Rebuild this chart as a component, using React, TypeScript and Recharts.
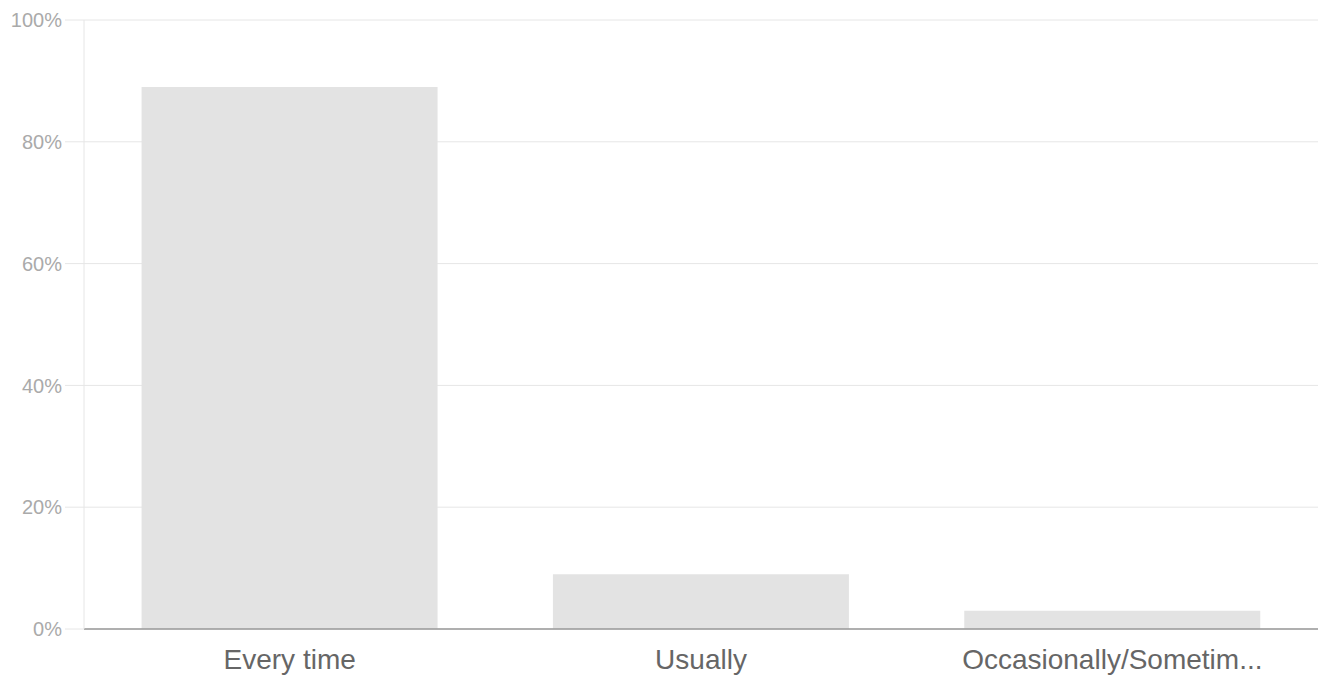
import React from 'react';
import { BarChart, Bar, XAxis, YAxis, CartesianGrid } from 'recharts';

const categories = ['Every time', 'Usually', 'Occasionally/Sometim...'];
const shares = [89, 9, 3];
const yTicks = [0, 20, 40, 60, 80, 100];

const data = categories.map((name, i) => ({ name, share: shares[i] }));

const font = '"Liberation Sans", Arial, sans-serif';

const App = () => {
  return (
    <div style={{ position: 'absolute', left: 0, top: 0, width: 1321, height: 681, background: '#fff' }}>
      <BarChart
        width={1321}
        height={681}
        data={data}
        margin={{ top: 20, right: 3, bottom: 0, left: 0 }}
        barCategoryGap="14%"
      >
        <CartesianGrid vertical={false} stroke="#e6e6e6" />
        <XAxis
          dataKey="name"
          height={52}
          interval={0}
          axisLine={{ stroke: '#999999', strokeWidth: 1.5 }}
          tickLine={false}
          tickSize={6}
          tickMargin={14}
          tick={{ fill: '#666666', fontSize: 28, fontFamily: font }}
        />
        <YAxis
          width={84}
          domain={[0, 100]}
          ticks={yTicks}
          interval={0}
          tickFormatter={(v: number) => `${v}%`}
          axisLine={{ stroke: '#e6e6e6' }}
          tickLine={{ stroke: '#e6e6e6' }}
          tickSize={19}
          tickMargin={3}
          tick={{ fill: '#aaaaaa', fontSize: 20, fontFamily: font }}
        />
        <Bar dataKey="share" fill="#e3e3e3" isAnimationActive={false} />
      </BarChart>
    </div>
  );
};

export default App;
